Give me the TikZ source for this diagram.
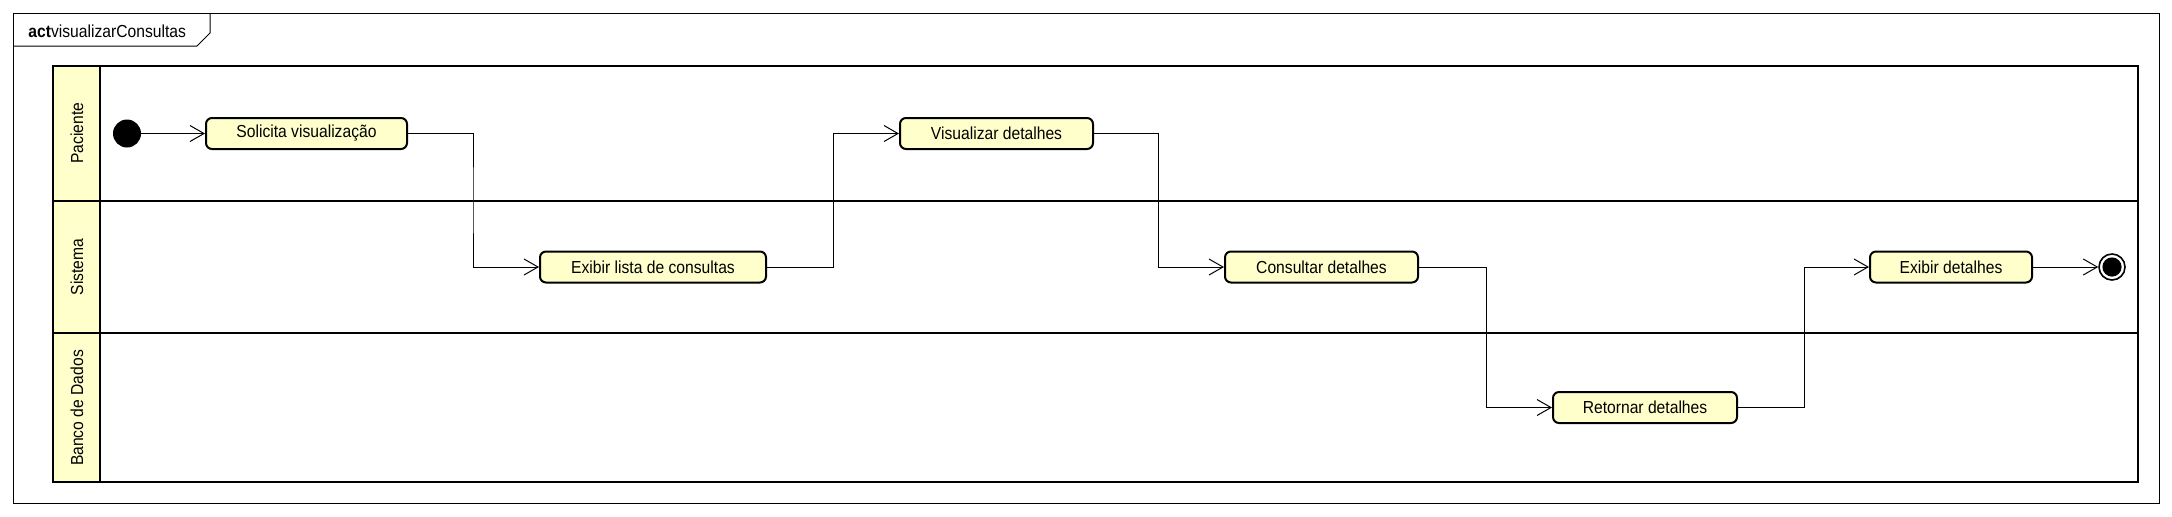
\documentclass[tikz,border=0pt]{standalone}
\usepackage{fontspec}
\setmainfont{Liberation Sans}[FakeStretch=0.9]
\usetikzlibrary{arrows.meta}
\definecolor{actfill}{HTML}{FFFFCC}
\begin{document}
\begin{tikzpicture}[x=0.5pt,y=-0.5pt,
  txt/.style={font=\fontsize{8.7}{10}\selectfont},
  act/.style={txt, draw, line width=1pt, fill=actfill, rounded corners=3pt,
              minimum height=15.5pt, inner sep=0pt},
  flow/.style={line width=0.5pt, -{Straight Barb[length=7pt,width=8pt]}},
  lanelabel/.style={txt, rotate=90, inner sep=0pt},
  thickline/.style={line width=1pt},
]
\useasboundingbox (0,0) rectangle (2172,516);
% outer frame
\draw[line width=0.5pt] (13,13) rectangle (2159,503);
\draw[line width=0.5pt] (13,46) -- (197,46) -- (210,33) -- (210,13);
\node[txt, anchor=base west, inner sep=0pt] (title) at (28,37) {\textbf{act}visualizarConsultas};
% swimlanes
\fill[actfill] (53,66) rectangle (100,482);
\draw[thickline] (53,66) rectangle (2138,482);
\draw[thickline] (100,66) -- (100,482);
\draw[thickline] (53,200.5) -- (2138,200.5);
\draw[thickline] (53,333) -- (2138,333);
\node[lanelabel] (l1) at (77,133) {Paciente};
\node[lanelabel] (l2) at (77,267) {Sistema};
\node[lanelabel] (l3) at (77,408) {Banco de Dados};
% nodes
\node[circle, fill=black, minimum size=14pt, inner sep=0pt] (i) at (127,133.5) {};
\node[act, minimum width=100.5pt] (s1) at (306.5,133.5) {Solicita visualização};
\node[act, minimum width=113pt] (s2) at (653,267) {Exibir lista de consultas};
\node[act, minimum width=96.5pt] (s3) at (996.5,133.5) {Visualizar detalhes};
\node[act, minimum width=96.5pt] (s4) at (1321.5,267) {Consultar detalhes};
\node[act, minimum width=92pt] (s5) at (1645,407.5) {Retornar detalhes};
\node[act, minimum width=81pt] (s6) at (1951,267) {Exibir detalhes};
\node[circle, draw, line width=0.8pt, minimum size=13pt, inner sep=0pt,
      path picture={\fill (path picture bounding box.center) circle (4.8pt);}] (f) at (2112,267) {};
% connectors
\draw[flow] (i) -- (s1);
\draw[flow] (s1.east) -| (473,200) |- (s2.west);
\draw[flow] (s2.east) -| (833,200) |- (s3.west);
\draw[flow] (s3.east) -| (1158,200) |- (s4.west);
\draw[flow] (s4.east) -| (1486,333) |- (s5.west);
\draw[flow] (s5.east) -| (1804,333) |- (s6.west);
\draw[flow] (s6) -- (f);
\end{tikzpicture}
\end{document}
